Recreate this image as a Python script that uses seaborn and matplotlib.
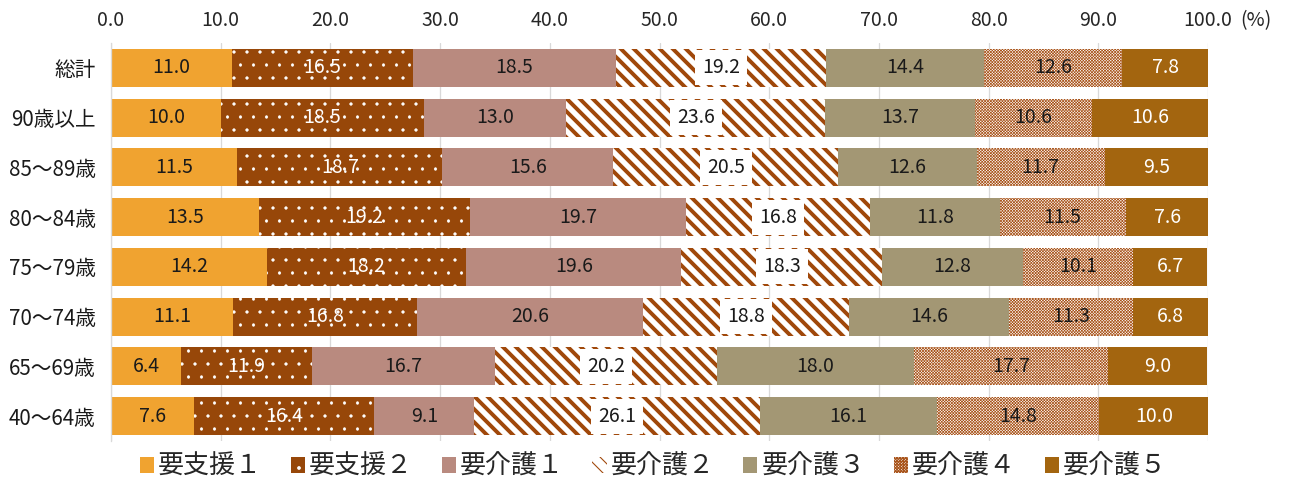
import numpy as np
import pandas as pd
import matplotlib
matplotlib.use("Agg")
import matplotlib.pyplot as plt
from matplotlib.patches import Patch
import seaborn as sns

categories = ["総計", "90歳以上", "85～89歳", "80～84歳", "75～79歳", "70～74歳", "65～69歳", "40～64歳"]
series_names = ["要支援１", "要支援２", "要介護１", "要介護２", "要介護３", "要介護４", "要介護５"]
shien1 = [11.0, 10.0, 11.5, 13.5, 14.2, 11.1, 6.4, 7.6]
shien2 = [16.5, 18.5, 18.7, 19.2, 18.2, 16.8, 11.9, 16.4]
kaigo1 = [18.5, 13.0, 15.6, 19.7, 19.6, 20.6, 16.7, 9.1]
kaigo2 = [19.2, 23.6, 20.5, 16.8, 18.3, 18.8, 20.2, 26.1]
kaigo3 = [14.4, 13.7, 12.6, 11.8, 12.8, 14.6, 18.0, 16.1]
kaigo4 = [12.6, 10.6, 11.7, 11.5, 10.1, 11.3, 17.7, 14.8]
kaigo5 = [7.8, 10.6, 9.5, 7.6, 6.7, 6.8, 9.0, 10.0]
xticks = [0, 10, 20, 30, 40, 50, 60, 70, 80, 90, 100]

series_values = [shien1, shien2, kaigo1, kaigo2, kaigo3, kaigo4, kaigo5]

# styles: (facecolor, hatch, hatchcolor, label text color, hatch linewidth)
styles = [
    ("#F0A330", None, "#F0A330", "#1a1a1a", 1.0),
    ("#974709", ".", "white", "white", 0.5),
    ("#B98A7F", None, "#B98A7F", "#1a1a1a", 1.0),
    ("white", "\\\\", "#A0480A", "#1a1a1a", 3.6),
    ("#A39774", None, "#A39774", "#1a1a1a", 1.0),
    ("white", "xxxxxxxxx", "#A9551C", "#1a1a1a", 0.65),
    ("#A3650F", None, "#A3650F", "white", 1.0),
]

DPI = 78
sns.set_theme(style="white")
plt.rcParams["font.family"] = ["Noto Sans CJK JP", "DejaVu Sans"]

fig = plt.figure(figsize=(1294 / DPI, 486 / DPI), dpi=DPI)
ax = fig.add_axes([111 / 1294, 1 - 441 / 486, (1208 - 111) / 1294, (441 - 43) / 486])

vals = np.array(series_values)  # shape (7, 8)
cums = np.cumsum(vals, axis=0)

# draw from last cumulative to first so earlier segments cover later ones
for i in range(len(series_names) - 1, -1, -1):
    fc, hatch, hc, tc, hlw = styles[i]
    df = pd.DataFrame({"cat": categories, "cum": cums[i]})
    n_before = len(ax.patches)
    sns.barplot(data=df, x="cum", y="cat", orient="y", order=categories,
                color=fc, saturation=1, errorbar=None, width=0.76, ax=ax)
    for p in ax.patches[n_before:]:
        p.set_facecolor(fc)
        p.set_linewidth(0)
        if hatch:
            p.set_edgecolor(hc)
            p.set_hatch(hatch)
            try:
                p.set_hatch_linewidth(hlw)
            except Exception:
                pass
        else:
            p.set_edgecolor(fc)

# value labels
for i in range(len(series_names)):
    fc, hatch, hc, tc, hlw = styles[i]
    for j, cat in enumerate(categories):
        v = vals[i, j]
        xc = cums[i, j] - v / 2
        kw = {}
        if i == 3:
            kw["bbox"] = dict(boxstyle="square,pad=0.36", fc="white", ec="none")
        ax.text(xc, j, f"{v:.1f}", ha="center", va="center", fontsize=18,
                color=tc, zorder=10, **kw)

ax.set_xlim(0, 100)
ax.set_ylim(len(categories) - 0.5, -0.5)
ax.set_xticks(xticks)
ax.set_xticklabels([f"{t:.1f}" for t in xticks])
ax.xaxis.tick_top()
ax.tick_params(axis="x", length=0, pad=11, labelsize=18, labelcolor="#262626")
ax.tick_params(axis="y", length=0, pad=14, labelsize=19, labelcolor="#1a1a1a")
ax.set_xlabel("")
ax.set_ylabel("")
ax.grid(axis="x", color="#D9D9D9", linewidth=1.2, zorder=0)
ax.set_axisbelow(True)
for s in ["top", "right", "bottom"]:
    ax.spines[s].set_visible(False)
ax.spines["left"].set_color("#D9D9D9")
ax.spines["left"].set_linewidth(1.2)

fig.text(1240 / 1294, 1 - 21 / 486, "(%)", ha="left", va="center", fontsize=18, color="#262626")

handles = []
for i, name in enumerate(series_names):
    fc, hatch, hc, tc, hlw = styles[i]
    h = Patch(facecolor=fc, edgecolor=hc if hatch else fc, hatch=hatch, linewidth=0, label=name)
    handles.append(h)
fig.legend(handles=handles, loc="center", bbox_to_anchor=(0.505, 0.04), ncol=7,
           frameon=False, fontsize=24, handlelength=0.55, handleheight=0.55,
           handletextpad=0.15, columnspacing=1.1, borderaxespad=0)

fig.savefig("out.png", dpi=DPI)
